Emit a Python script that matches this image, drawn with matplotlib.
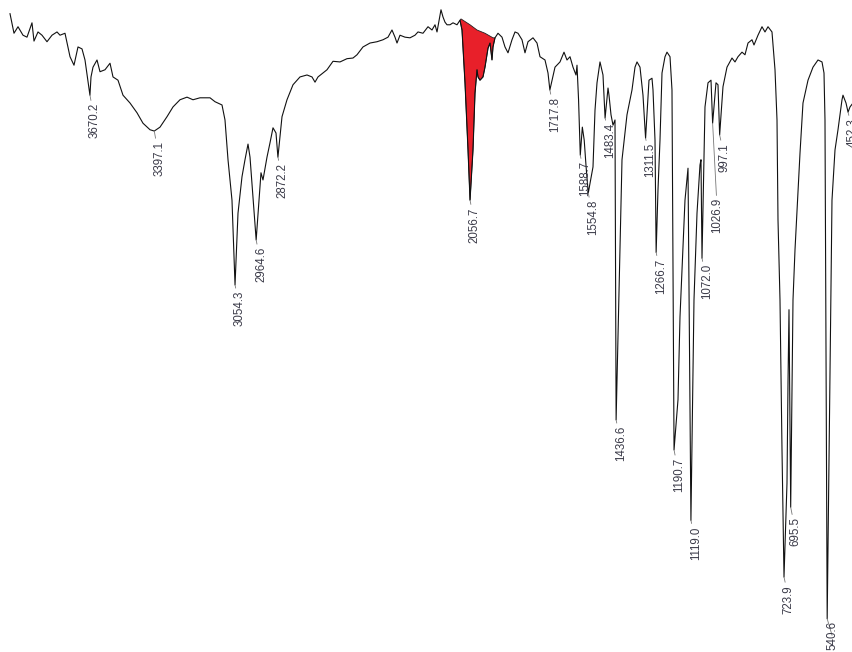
import numpy as np
import matplotlib

matplotlib.use('Agg')
import matplotlib.pyplot as plt

# IR spectrum: wavenumber (cm-1) and transmittance (%)
wavenumber = [
    4009.5, 3992.6, 3975.6, 3954.4, 3937.4, 3916.2, 3907.7, 3890.7, 3873.7, 3852.5,
    3831.3, 3810.0, 3797.3, 3776.1, 3754.8, 3737.9, 3720.9, 3703.9, 3691.2, 3670.2,
    3665.7, 3657.2, 3640.2, 3627.5, 3606.3, 3585.0, 3572.3, 3551.1, 3529.9, 3500.1,
    3470.4, 3445.0, 3415.2, 3397.1, 3372.8, 3343.1, 3317.6, 3287.9, 3258.2, 3232.7,
    3203.0, 3160.5, 3139.3, 3109.6, 3096.9, 3084.1, 3067.2, 3054.3, 3041.7, 3024.7,
    3012.0, 2999.2, 2990.7, 2978.0, 2964.6, 2952.5, 2944.1, 2935.6, 2918.6, 2905.8,
    2893.1, 2880.4, 2872.2, 2854.9, 2833.7, 2808.2, 2778.5, 2748.8, 2727.6, 2714.8,
    2702.1, 2663.9, 2638.4, 2608.7, 2579.0, 2553.5, 2536.5, 2511.1, 2481.3, 2451.6,
    2426.2, 2404.9, 2388.0, 2375.2, 2366.7, 2354.0, 2332.8, 2311.5, 2290.3, 2277.6,
    2256.4, 2235.1, 2218.2, 2205.4, 2196.9, 2180.0, 2171.5, 2163.0, 2154.5, 2141.7,
    2129.0, 2112.0, 2099.3, 2090.8, 2078.1, 2065.3, 2056.7, 2044.1, 2035.6, 2027.1,
    2022.9, 2014.4, 2001.7, 1993.2, 1980.4, 1971.9, 1963.5, 1959.2, 1950.7, 1938.0,
    1921.0, 1908.3, 1895.5, 1878.6, 1865.8, 1853.1, 1836.1, 1823.4, 1810.6, 1789.4,
    1772.4, 1759.7, 1738.5, 1725.7, 1717.8, 1696.0, 1674.8, 1657.8, 1645.1, 1632.3,
    1619.6, 1606.9, 1602.6, 1596.0, 1588.7, 1580.0, 1572.0, 1564.0, 1554.8, 1534.7,
    1526.2, 1517.7, 1505.0, 1492.3, 1483.4, 1471.0, 1466.8, 1458.3, 1449.8, 1441.3,
    1436.6, 1420.1, 1411.6, 1390.4, 1369.2, 1356.4, 1347.9, 1335.2, 1322.5, 1311.5,
    1297.0, 1284.3, 1280.0, 1271.5, 1266.7, 1258.8, 1250.3, 1241.8, 1229.1, 1220.6,
    1207.8, 1199.4, 1190.7, 1173.9, 1165.4, 1144.2, 1131.4, 1119.0, 1106.0, 1093.2,
    1080.5, 1076.3, 1072.0, 1063.5, 1059.3, 1046.5, 1033.8, 1026.9, 1012.6, 1004.1,
    997.1, 982.9, 965.9, 944.7, 931.9, 919.2, 902.2, 889.5, 876.7, 859.8,
    851.3, 834.3, 817.3, 804.6, 791.8, 774.9, 762.1, 753.6, 749.4, 740.9,
    732.4, 723.9, 711.2, 706.9, 702.7, 695.5, 685.7, 677.2, 656.0, 643.3,
    622.0, 600.8, 579.6, 562.6, 554.1, 549.9, 540.6, 520.2, 507.4, 494.7,
    477.7, 473.5, 460.7, 452.0, 443.7, 431.0,
]
transmittance = [
    97.9, 94.9, 95.9, 94.6, 94.3, 96.5, 93.7, 95.1, 94.6, 93.6,
    94.6, 95.1, 94.6, 94.9, 91.3, 90.0, 92.8, 92.5, 90.8, 85.4,
    88.2, 89.7, 90.8, 89.0, 89.3, 90.3, 88.2, 87.7, 85.4, 84.2,
    82.7, 81.1, 80.1, 79.9, 80.5, 82.1, 83.6, 84.7, 85.1, 84.7,
    85.0, 85.0, 84.4, 83.9, 81.6, 75.5, 69.3, 56.3, 67.3, 72.9,
    75.5, 77.9, 75.9, 69.8, 63.2, 69.3, 73.5, 72.4, 75.9, 78.1,
    80.4, 79.6, 75.9, 82.1, 84.7, 87.0, 88.2, 88.5, 88.2, 87.4,
    88.2, 89.3, 90.6, 90.5, 91.0, 91.1, 91.6, 92.8, 93.4, 93.6,
    93.9, 94.3, 95.4, 94.3, 93.4, 94.6, 94.3, 94.2, 94.6, 95.1,
    94.9, 95.9, 95.4, 96.2, 95.1, 98.5, 97.4, 96.6, 96.2, 96.2,
    96.5, 96.2, 96.9, 95.4, 87.3, 77.0, 69.3, 77.0, 85.7, 89.3,
    88.2, 87.7, 88.2, 89.7, 92.6, 93.4, 90.8, 92.8, 94.2, 94.9,
    94.3, 92.8, 91.9, 93.9, 95.1, 94.9, 93.9, 91.9, 93.6, 94.2,
    93.4, 91.3, 90.8, 88.8, 86.2, 89.7, 90.5, 92.0, 90.8, 91.3,
    89.7, 88.5, 90.0, 84.7, 76.2, 80.5, 78.5, 74.4, 70.4, 74.4,
    83.1, 87.3, 90.5, 88.5, 81.9, 86.5, 85.4, 82.4, 80.8, 81.6,
    35.6, 61.7, 75.5, 82.4, 86.2, 89.7, 90.5, 89.7, 85.4, 78.8,
    87.7, 88.0, 86.2, 78.5, 61.3, 70.9, 78.5, 88.8, 91.3, 92.0,
    91.3, 86.2, 31.0, 38.7, 51.4, 69.3, 74.2, 20.2, 54.0, 67.3,
    74.7, 75.5, 60.4, 75.5, 83.6, 87.3, 87.7, 81.1, 87.3, 87.0,
    79.3, 86.7, 89.7, 91.1, 90.5, 91.3, 92.0, 91.6, 93.4, 93.9,
    93.1, 94.6, 95.9, 95.1, 95.9, 95.1, 89.3, 81.6, 66.3, 54.0,
    31.0, 11.5, 25.9, 41.3, 52.5, 22.2, 54.0, 61.7, 76.5, 84.2,
    87.7, 89.7, 90.8, 90.5, 88.8, 81.6, 5.1, 69.3, 77.0, 80.1,
    84.7, 85.4, 84.2, 82.8, 83.6, 84.2,
]

# baseline of the shaded 2056.7 band (upper edge of the red area)
band_base_wn = [2099.3, 2095.1, 2056.8, 2027.1, 1993.2, 1959.2, 1950.7]
band_base_t = [96.9, 97.1, 96.2, 95.4, 94.9, 94.2, 94.2]

# labelled peaks and the gap (px) between trough and label
peak_wn = [3670.2, 3397.1, 3054.3, 2964.6, 2872.2, 2056.7, 1717.8, 1588.7,
           1554.8, 1483.4, 1436.6, 1311.5, 1266.7, 1190.7, 1119.0, 1072.0,
           1026.9, 997.1, 723.9, 695.5, 540.6, 452.0]
peak_text = ['3670.2', '3397.1', '3054.3', '2964.6', '2872.2', '2056.7', '1717.8',
             '1588.7', '1554.8', '1483.4', '1436.6', '1311.5', '1266.7', '1190.7',
             '1119.0', '1072.0', '1026.9', '997.1', '723.9', '695.5', '540.6', '452.3']
label_gap = [8, 10, 6, 7, 6, 7, 7, 6, 7, 5, 6, 5, 6, 8, 6, 6, 75, 8, 8, 10, 2, 6]

wn = np.array(wavenumber)
tr = np.array(transmittance)

fig = plt.figure(figsize=(8.53, 6.52), dpi=100)
ax = fig.add_axes([0, 0, 1, 1])

# red shaded band: baseline left->right, then spectrum back right->left
mask = (wn <= 2099.3) & (wn >= 1950.7)
poly_x = np.concatenate([band_base_wn, wn[mask][::-1]])
poly_y = np.concatenate([band_base_t, tr[mask][::-1]])
ax.fill(poly_x, poly_y, facecolor='#e8202a', edgecolor='#222222', lw=0.6, zorder=2)

ax.plot(wn, tr, color='#111111', lw=0.8, zorder=3)

for w, txt, gap in zip(peak_wn, peak_text, label_gap):
    t = np.interp(w, wn[::-1], tr[::-1])
    gap_pt = gap * 0.72
    ax.annotate(txt, xy=(w, t), xytext=(3.5, -gap_pt), textcoords='offset points',
                rotation=90, ha='center', va='top', fontsize=8.3,
                family='Liberation Sans', color='#3a3a48',
                arrowprops=dict(arrowstyle='-', color='#777777', lw=0.6,
                                shrinkA=0, shrinkB=0))

ax.set_xlim(4052, 431)
ax.set_ylim(0, 100)
ax.axis('off')

fig.savefig('out.png', dpi=100)
